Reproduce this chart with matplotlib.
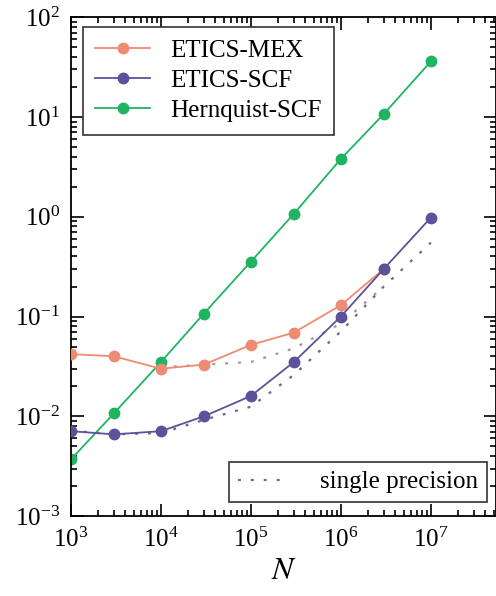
import numpy as np
import matplotlib
matplotlib.use("Agg")
import matplotlib.pyplot as plt
from matplotlib.ticker import LogLocator, NullFormatter

plt.rcParams['font.family'] = ['Liberation Serif', 'DejaVu Serif']
plt.rcParams['mathtext.fontset'] = 'stix'

# particle numbers
N = [1e3, 3e3, 1e4, 3e4, 1e5, 3e5, 1e6, 3e6, 1e7]

# timings
mex = [0.042, 0.040, 0.030, 0.033, 0.052, 0.069, 0.13, 0.30]
scf = [0.0071, 0.0066, 0.0071, 0.010, 0.016, 0.035, 0.10, 0.30, 0.98]
hernquist = [0.0037, 0.0107, 0.035, 0.107, 0.355, 1.07, 3.8, 10.7, 36.0]

# single precision runs
N_mex_single = [1e4, 3e4, 1e5, 3e5, 1e6, 3e6]
mex_single = [0.031, 0.033, 0.035, 0.048, 0.085, 0.20]
scf_single = [0.0072, 0.0066, 0.0068, 0.0092, 0.0125, 0.026, 0.071, 0.20, 0.55]

c_mex = '#ef8b72'
c_scf = '#5c5299'
c_her = '#1fb462'

fig = plt.figure(figsize=(4.96, 5.96), dpi=100)
ax = fig.add_axes([0.143, 0.134, 0.857, 0.8372])

dot = (0, (1.3, 4.5))
ax.plot(N_mex_single, mex_single, color='#a8929f', lw=1.6, linestyle=dot, zorder=1)
sp, = ax.plot(N, scf_single, color='#6e6498', lw=1.6, linestyle=dot, zorder=1)

l1, = ax.plot(N[:len(mex)], mex, '-o', color=c_mex, lw=1.3, ms=7.5, zorder=3, label='ETICS-MEX')
l2, = ax.plot(N, scf, '-o', color=c_scf, lw=1.3, ms=7.5, zorder=4, label='ETICS-SCF')
l3, = ax.plot(N, hernquist, '-o', color=c_her, lw=1.3, ms=7.5, zorder=2, label='Hernquist-SCF')

ax.set_xscale('log')
ax.set_yscale('log')
ax.set_xlim(1e3, 5.3e7)
ax.set_ylim(1e-3, 1e2)

ax.xaxis.set_major_locator(LogLocator(base=10, numticks=20))
ax.xaxis.set_minor_locator(LogLocator(base=10, subs=np.arange(2, 10), numticks=20))
ax.xaxis.set_minor_formatter(NullFormatter())
ax.yaxis.set_minor_locator(LogLocator(base=10, subs=np.arange(2, 10), numticks=20))
ax.yaxis.set_minor_formatter(NullFormatter())
ax.set_xticks([1e3, 1e4, 1e5, 1e6, 1e7])

ax.tick_params(which='both', direction='in', top=True, right=True, labelsize=18, width=1.2)
ax.tick_params(which='major', length=9, pad=8)
ax.tick_params(which='minor', length=4.5)
for s in ax.spines.values():
    s.set_linewidth(1.3)

ax.set_xlabel('$N$', fontsize=23, labelpad=4)

leg1 = ax.legend(handles=[l1, l2, l3], loc='upper left', bbox_to_anchor=(0.028, 0.98),
                 borderaxespad=0, fontsize=18, frameon=True, fancybox=False,
                 edgecolor='#333333', framealpha=1, handlelength=2.2, handletextpad=0.8,
                 labelspacing=0.3, borderpad=0.5)
leg1.get_frame().set_linewidth(1.2)
ax.add_artist(leg1)

leg2 = ax.legend(handles=[sp], labels=['single precision'], loc='lower right',
                 bbox_to_anchor=(0.979, 0.028), borderaxespad=0, fontsize=18,
                 frameon=True, fancybox=False, edgecolor='#333333', framealpha=1,
                 handlelength=1.9, handletextpad=1.4, borderpad=0.35)
leg2.get_frame().set_linewidth(1.2)

fig.savefig('out.png', dpi=100)
